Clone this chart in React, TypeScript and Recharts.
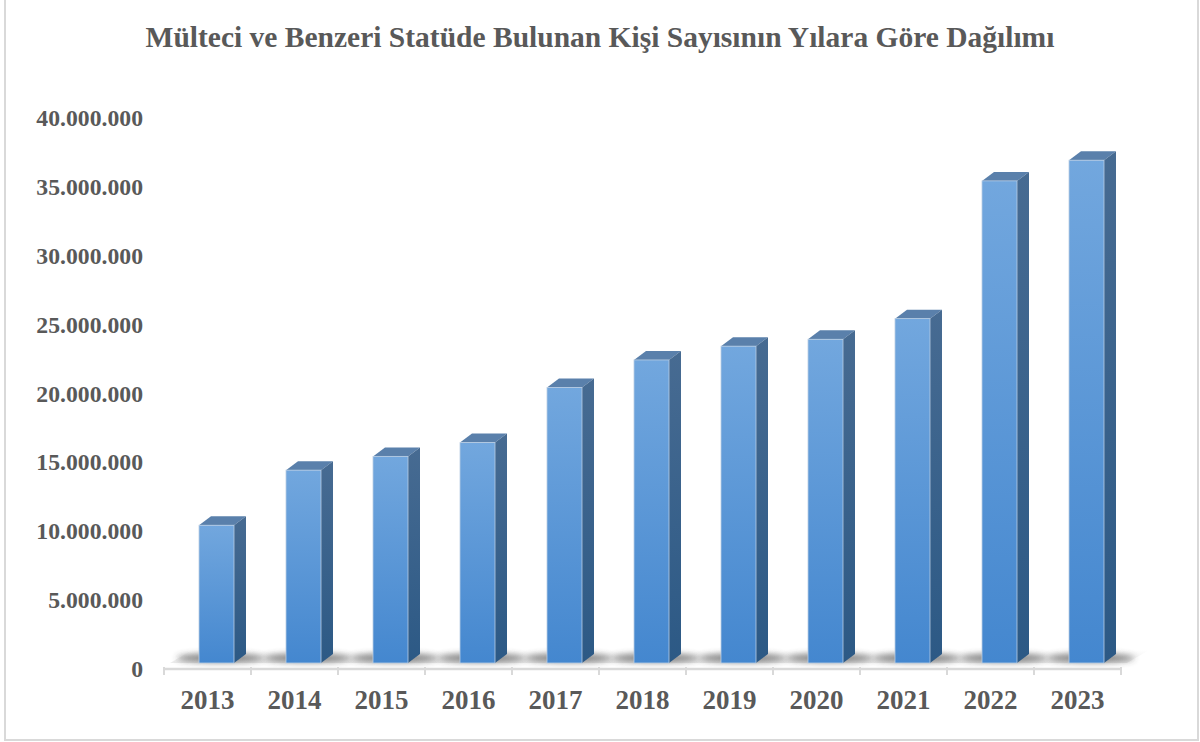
import React from 'react'
import { BarChart, Bar, XAxis, YAxis, ReferenceArea } from 'recharts'

// Mülteci ve benzeri statüdeki kişi sayısı (yıllara göre)
const years = ['2013', '2014', '2015', '2016', '2017', '2018', '2019', '2020', '2021', '2022', '2023']
const persons = [
  10000000, 14000000, 15000000, 16000000, 20000000, 22000000, 23000000, 23500000, 25000000, 35000000,
  36500000,
]
const yTicks = [0, 5000000, 10000000, 15000000, 20000000, 25000000, 30000000, 35000000, 40000000]

const title = 'Mülteci ve Benzeri Statüde Bulunan Kişi Sayısının Yılara Göre Dağılımı'

const data = years.map((year, i) => ({ year, value: persons[i] }))

const FONT = '"Liberation Serif", "Times New Roman", serif'
const GREY = '#595959'

// 3D look
const DX = 12
const DY = 9
const SHIFT_X = 9
const LIFT = 6

const fmt = (v: number) => String(v).replace(/\B(?=(\d{3})+(?!\d))/g, '.')

// width of a label in em (Times digits 0.5em, dot 0.25em)
const labelEm = (s: string) => s.split('').reduce((a, c) => a + (c === '.' ? 0.25 : 0.5), 0)

function Bar3D(props: any) {
  const { x, y, width, height } = props
  const fx = x + SHIFT_X
  const fy = y - LIFT
  const w = width
  const bottom = fy + height
  return (
    <g>
      <ellipse
        cx={fx + w / 2 + 4}
        cy={bottom - 5}
        rx={w * 1.25}
        ry={4.5}
        fill="#3a3a3a"
        opacity={0.6}
        filter="url(#shadowBlur)"
      />
      <polygon
        points={`${fx},${fy} ${fx + DX},${fy - DY} ${fx + w + DX},${fy - DY} ${fx + w},${fy}`}
        fill="#5a80ab"
      />
      <polygon
        points={`${fx + w},${fy} ${fx + w + DX},${fy - DY} ${fx + w + DX},${bottom - DY} ${fx + w},${bottom}`}
        fill="url(#sideGrad)"
      />
      <rect x={fx} y={fy} width={w} height={height} fill="url(#frontGrad)" stroke="#b9cde3" strokeWidth={0.8} />
    </g>
  )
}

function Floor(props: any) {
  const { x, y, width, height } = props
  const base = y + height
  return (
    <g>
      <defs>
        <linearGradient id="frontGrad" x1="0" y1="0" x2="0" y2="1">
          <stop offset="0%" stopColor="#72a7de" />
          <stop offset="100%" stopColor="#4487cf" />
        </linearGradient>
        <linearGradient id="sideGrad" x1="0" y1="0" x2="0" y2="1">
          <stop offset="0%" stopColor="#476b92" />
          <stop offset="100%" stopColor="#2c5985" />
        </linearGradient>
        <linearGradient id="floorGrad" x1="0" y1="0" x2="0" y2="1">
          <stop offset="0%" stopColor="#ffffff" />
          <stop offset="100%" stopColor="#ececec" />
        </linearGradient>
        <filter id="shadowBlur" x="-50%" y="-200%" width="200%" height="500%">
          <feGaussianBlur stdDeviation="3" />
        </filter>
      </defs>
      <polygon
        points={`${x + 6},${base - 6} ${x + 28},${base - 19} ${x + width + 28},${base - 19} ${x + width + 6},${base - 6}`}
        fill="url(#floorGrad)"
      />
    </g>
  )
}

function XTick(props: any) {
  const { x, y, payload, index, visibleTicksCount } = props
  const half = payload && payload.offset ? payload.offset : 43.5
  const axisY = y - 10
  return (
    <g>
      <line x1={x - half} y1={axisY} x2={x - half} y2={axisY + 8} stroke="#d9d9d9" strokeWidth={2} />
      {index === visibleTicksCount - 1 && (
        <line x1={x + half} y1={axisY} x2={x + half} y2={axisY + 8} stroke="#d9d9d9" strokeWidth={2} />
      )}
      <text x={x} y={axisY + 42} textAnchor="middle" fontFamily={FONT} fontWeight="bold" fontSize={27} fill={GREY}>
        {payload.value}
      </text>
    </g>
  )
}

function YTick(props: any) {
  const { y, payload } = props
  const label = fmt(payload.value)
  return (
    <text
      x={143}
      y={y + 8}
      textAnchor="end"
      fontFamily={FONT}
      fontWeight="bold"
      fontSize={23}
      fill={GREY}
      textLength={labelEm(label) * 23.7}
      lengthAdjust="spacingAndGlyphs"
    >
      {label}
    </text>
  )
}

export default function App() {
  return (
    <div style={{ position: 'absolute', left: 0, top: 0, width: 1200, height: 742, background: '#fff', overflow: 'hidden' }}>
      <div
        style={{
          position: 'absolute',
          left: 4,
          top: -2,
          width: 1191,
          height: 739,
          border: '2px solid #d9d9d9',
        }}
      />
      <div
        style={{
          position: 'absolute',
          top: 22,
          left: 0,
          width: 1200,
          textAlign: 'center',
          fontFamily: FONT,
          fontWeight: 'bold',
          fontSize: 29.5,
          lineHeight: '30px',
          color: GREY,
        }}
      >
        {title}
      </div>
      <div style={{ position: 'absolute', left: 0, top: 0 }}>
        <BarChart width={1200} height={742} data={data} margin={{ top: 118, right: 79, bottom: 0, left: 0 }}>
          <XAxis
            dataKey="year"
            axisLine={{ stroke: '#d9d9d9', strokeWidth: 2.5 }}
            tickLine={false}
            tick={<XTick />}
            interval={0}
            height={73}
          />
          <YAxis
            domain={[0, 40000000]}
            ticks={yTicks}
            axisLine={false}
            tickLine={false}
            tick={<YTick />}
            width={164}
            interval={0}
          />
          <ReferenceArea y1={0} y2={1000000} shape={<Floor />} ifOverflow="visible" />
          <Bar dataKey="value" barSize={35} shape={<Bar3D />} isAnimationActive={false} />
        </BarChart>
      </div>
    </div>
  )
}
